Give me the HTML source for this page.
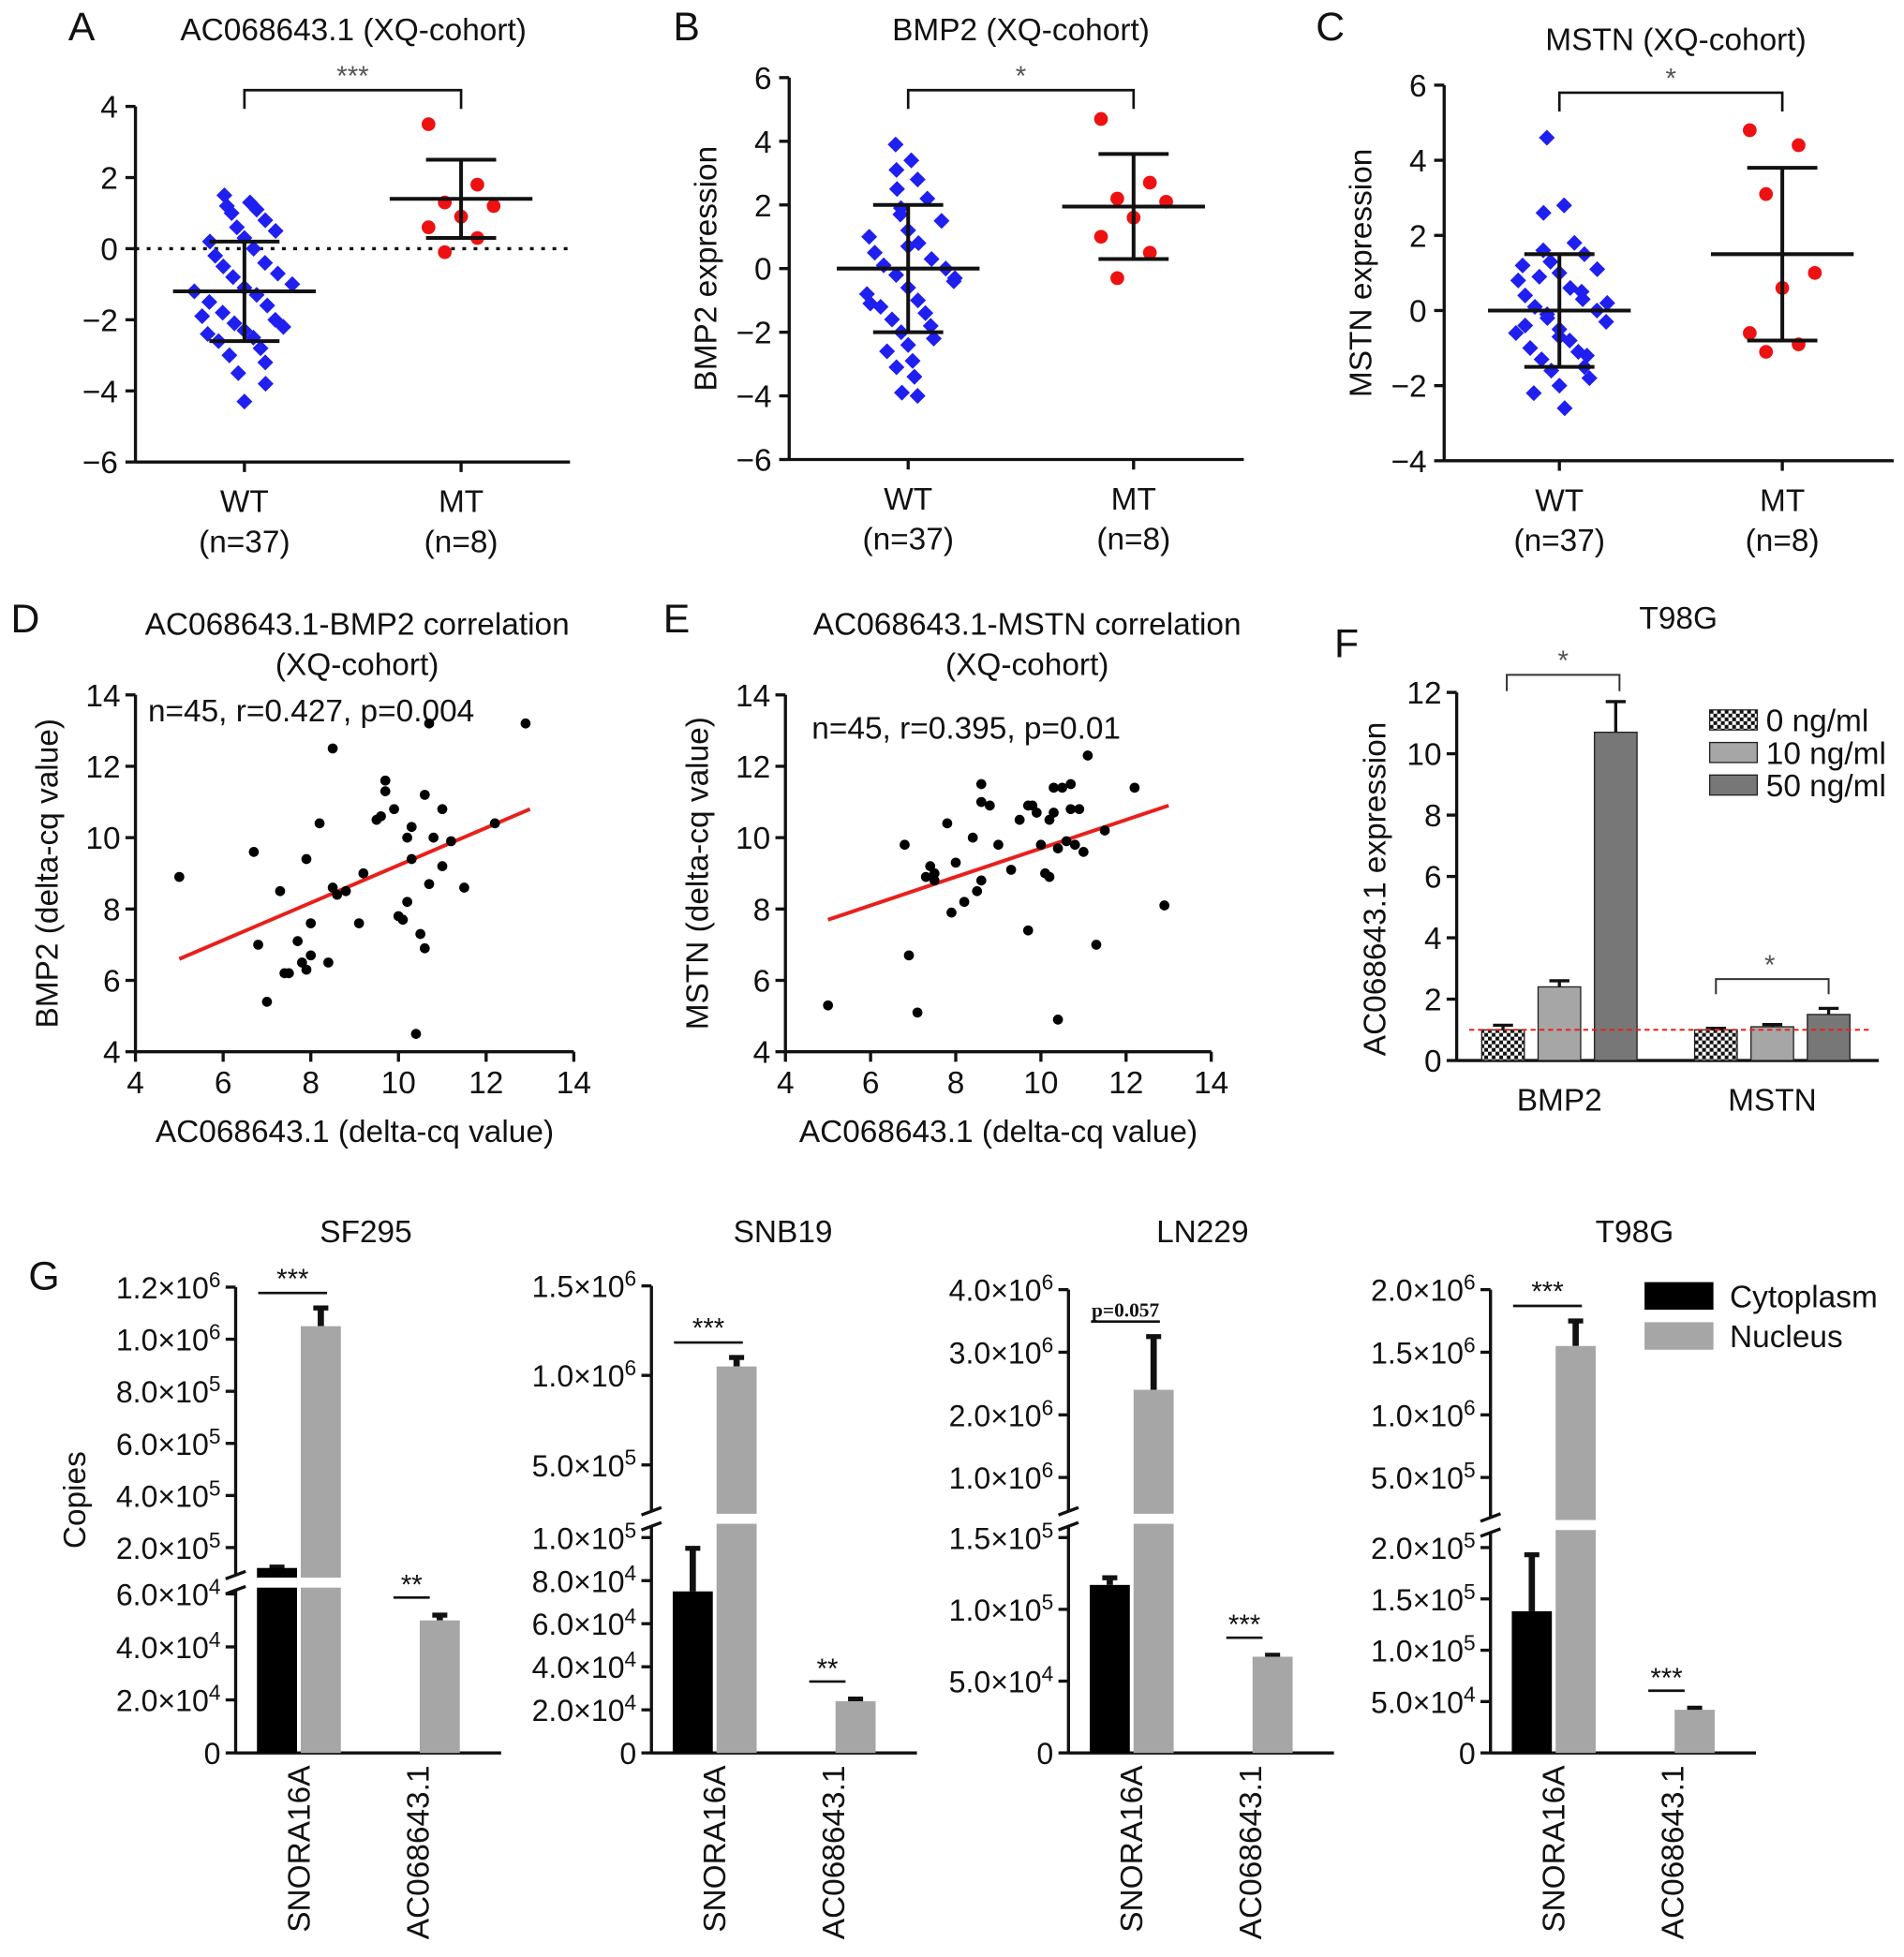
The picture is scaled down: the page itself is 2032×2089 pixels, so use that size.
<!DOCTYPE html>
<html><head><meta charset="utf-8">
<style>
html,body{margin:0;padding:0;background:#fff;}
svg{display:block;font-family:"Liberation Sans",sans-serif;}
</style></head>
<body>
<svg id="fig" xmlns="http://www.w3.org/2000/svg" width="2032" height="2089" viewBox="0 0 1520 1563">
<rect width="1520" height="1563" fill="#fff"/>
</svg>
<script>
// ---------- DATA ----------
const groupCats = ["WT", "MT"];
const groupNs = ["(n=37)", "(n=8)"];
const aWT = [1.5,1.3,1.2,1.1,1.0,0.8,0.6,0.5,0.3,0.2,0,-0.2,-0.4,-0.5,-0.7,-0.8,-1,-1.1,-1.2,-1.3,-1.5,-1.6,-1.8,-2,-2.1,-2.2,-2.3,-2.4,-2.5,-2.6,-2.8,-3,-3.2,-3.5,-3.8,-4.3,-1.9];
const aMT = [3.5,1.8,1.3,1.2,0.9,0.6,0.3,-0.1];
const aStats = [[-1.2,1.4],[1.4,1.1]];
const bWT = [3.9,3.4,3.1,2.8,2.5,2.2,1.9,1.5,1.2,1,0.8,0.5,0.3,0.1,0,-0.2,-0.4,-0.6,-0.8,-1,-1.2,-1.4,-1.6,-1.8,-2,-2.2,-2.4,-2.6,-2.9,-3.1,-3.4,-3.9,-4,1.7,-0.3,0.7,-1.1];
const bMT = [4.7,2.7,2.2,2.1,1.6,1,0.5,-0.3];
const bStats = [[0,2],[1.95,1.65]];
const cWT = [4.6,2.8,2.6,1.8,1.6,1.5,1.3,1.1,1,0.8,0.6,0.4,0.3,0.1,0,-0.1,-0.3,-0.5,-0.6,-0.8,-1,-1.1,-1.3,-1.5,-1.6,-1.8,-2,-2.2,-2.6,-0.4,0.5,0.9,-1.2,-0.2,0.2,-0.7,1.2];
const cMT = [4.8,4.4,3.1,1.0,0.6,-0.6,-0.9,-1.1];
const cStats = [[0,1.5],[1.5,2.3]];
const dX = [5,6.7,6.8,7,7.3,7.4,7.5,7.7,7.8,7.9,8,7.9,8.2,8,8.4,8.5,8.5,8.6,8.8,9.1,9.2,9.5,9.6,9.7,9.7,9.9,10,10.1,10.2,10.2,10.3,10.3,10.5,10.6,10.4,10.6,10.7,10.8,11,11.2,11.5,12.2,12.9,10.7,11];
const dY = [8.9,9.6,7,5.4,8.5,6.2,6.2,7.1,6.5,6.3,6.7,9.4,10.4,7.6,6.5,12.5,8.6,8.4,8.5,7.6,9,10.5,10.6,11.6,11.3,10.8,7.8,7.7,8.2,10,9.4,10.3,7.3,6.9,4.5,11.2,8.7,10,10.8,9.9,8.6,10.4,13.2,13.2,9.2];
const dFit = [[5,6.6],[13,10.8]];
const eX = [5,6.8,6.9,7.1,7.3,7.4,7.5,7.5,7.8,7.9,8,8.2,8.4,8.5,8.6,8.6,8.6,8.8,9,9.3,9.5,9.7,9.7,9.8,9.9,10,10.1,10.2,10.3,10.3,10.4,10.4,10.5,10.6,10.7,10.7,10.8,10.9,11,11.1,11.3,11.5,12.2,12.9,10.2];
const eY = [5.3,9.8,6.7,5.1,8.9,9.2,8.8,9,10.4,7.9,9.3,8.2,10,8.5,11.5,11,8.8,10.9,9.8,9.1,10.5,10.9,7.4,10.9,10.7,9.8,9,8.9,10.7,11.4,4.9,9.7,11.4,9.9,11.5,10.8,9.8,10.8,9.6,12.3,7,10.2,11.4,8.1,10.5];
const eFit = [[5,7.7],[13,10.9]];
const fGenes = ["BMP2","MSTN"];
const fDoses = ["0 ng/ml","10 ng/ml","50 ng/ml"];
const fBMP2 = [1.0,2.4,10.7];
const fBMP2Err = [0.15,0.2,1.0];
const fMSTN = [1.0,1.1,1.5];
const fMSTNErr = [0.05,0.07,0.2];
const fTicks = [0,2,4,6,8,10,12];
const gCells = ["SF295","SNB19","LN229","T98G"];
const gGenes = ["SNORA16A","AC068643.1"];
const gCyto = [[8e4,0],[7.5e4,0],[1.17e5,0],[1.38e5,0]];
const gCytoErr = [[0.5e4,0],[2e4,0],[0.05e5,0],[0.55e5,0]];
const gNuc = [[1.05e6,5e4],[1.05e6,2.4e4],[2.4e6,6.7e4],[1.55e6,4.2e4]];
const gNucErr = [[0.07e6,0.2e4],[0.05e6,0.1e4],[0.85e6,0.1e4],[0.2e6,0.15e4]];
const gSig = [["***","**"],["***","**"],["p=0.057","***"],["***","***"]];

// ---------- helpers ----------
const FS=25;
const NS="http://www.w3.org/2000/svg";
const svg=document.getElementById('fig');
function mk(tag,attrs,parent){const e=document.createElementNS(NS,tag);for(const k in attrs)e.setAttribute(k,attrs[k]);(parent||svg).appendChild(e);return e;}
function txt(x,y,s,size,anchor,parent,extra){const t=mk('text',Object.assign({x:x,y:y,'font-size':size,'text-anchor':anchor||'middle',fill:'#111'},extra||{}),parent);t.textContent=s;return t;}
function line(x1,y1,x2,y2,w,parent,extra){return mk('line',Object.assign({x1,y1,x2,y2,stroke:'#111','stroke-width':w||2},extra||{}),parent);}
function sup(t,base,exp){t.textContent='';const a=document.createElementNS(NS,'tspan');a.textContent=base;t.appendChild(a);const b=document.createElementNS(NS,'tspan');b.setAttribute('dy','-9');b.setAttribute('font-size','17');b.textContent=exp;t.appendChild(b);}

// ---------- panel letters ----------
[["A",65,32],["B",548,32],["C",1062,32],["D",20,505],["E",540,505],["F",1075,525],["G",35,1030]].forEach(p=>{
  const t=txt(p[1],p[2],p[0],32,'middle');
  
  
});

// ---------- dot plots A,B,C ----------
function dotPanel(cfg){
  const g=mk('g',{});
  
  
  const y=v=>cfg.y0+(v-cfg.vmax)*(cfg.y1-cfg.y0)/(cfg.vmin-cfg.vmax);
  const xs=[cfg.xWT,cfg.xMT];
  const tt=txt(cfg.titleX,cfg.titleY,cfg.title,FS,'middle',g);
  
  
  line(cfg.ax,cfg.y0,cfg.ax,cfg.y1+1,2.5,g);
  line(cfg.ax,cfg.y1,cfg.axEnd,cfg.y1,2.5,g);
  for(let v=cfg.vmin;v<=cfg.vmax;v+=2){
    line(cfg.ax-8,y(v),cfg.ax,y(v),2.5,g);
    const t=txt(cfg.ax-14,y(v)+9,(v<0?'\u2212'+(-v):''+v),FS,'end',g);
    
    
  }
  groupCats.forEach((c,i)=>{
    line(xs[i],cfg.y1,xs[i],cfg.y1+8,2.5,g);
    const t=txt(xs[i],cfg.y1+40,c,FS,'middle',g);
    
    
    const n=txt(xs[i],cfg.y1+72,groupNs[i],FS,'middle',g);
    
    
  });
  if(cfg.ylabel){const yl=txt(0,0,cfg.ylabel,FS,'middle',g,{transform:`translate(${cfg.ax-58},${(cfg.y0+cfg.y1)/2}) rotate(-90)`});
    
    }
  if(cfg.zeroLine){const zl=line(cfg.ax,y(0),cfg.axEnd,y(0),2.5,g,{'stroke-dasharray':'3 6'});
    
    }
  const m0=cfg.stats[0][0];
  cfg.wt.forEach((v,i)=>{
    const spread=Math.max(0.25,1-Math.abs(v-m0)/4.5);
    const off=((i*5)%9-4)*10*spread;
    const cx=xs[0]+off, cy=y(v);
    const d=mk('rect',{x:cx-4.5,y:cy-4.5,width:9,height:9,fill:'#1f1ff0',transform:`rotate(45 ${cx} ${cy})`},g);
    
    
  });
  cfg.mt.forEach((v,i)=>{
    const off=((i*3)%5-2)*13;
    const c=mk('circle',{cx:xs[1]+off,cy:y(v),r:5.5,fill:'#ee1111'},g);
    
    
  });
  cfg.stats.forEach((s,i)=>{
    const m=line(xs[i]-57,y(s[0]),xs[i]+57,y(s[0]),3,g);
    
    
    line(xs[i],y(s[0]+s[1]),xs[i],y(s[0]-s[1]),3,g);
    line(xs[i]-28,y(s[0]+s[1]),xs[i]+28,y(s[0]+s[1]),3,g);
    line(xs[i]-28,y(s[0]-s[1]),xs[i]+28,y(s[0]-s[1]),3,g);
  });
  const b=mk('path',{d:`M${xs[0]},${cfg.brY+15} V${cfg.brY} H${xs[1]} V${cfg.brY+15}`,fill:'none',stroke:'#111','stroke-width':2},g);
  
  
  const st=txt((xs[0]+xs[1])/2,cfg.brY-4,cfg.sig,22,'middle',g,{fill:'#555'});
  
  
}
dotPanel({name:'panel-a-dotplot',title:'AC068643.1 (XQ-cohort)',titleX:282,titleY:32,ax:108,axEnd:455,y0:85,y1:369,vmax:4,vmin:-6,xWT:195,xMT:368,wt:aWT,mt:aMT,stats:aStats,brY:72,sig:'***',zeroLine:true});
dotPanel({name:'panel-b-dotplot',title:'BMP2 (XQ-cohort)',titleX:815,titleY:32,ax:630,axEnd:993,y0:62,y1:367,vmax:6,vmin:-6,xWT:725,xMT:905,wt:bWT,mt:bMT,stats:bStats,brY:72,sig:'*',ylabel:'BMP2 expression'});
dotPanel({name:'panel-c-dotplot',title:'MSTN (XQ-cohort)',titleX:1338,titleY:40,ax:1153,axEnd:1512,y0:68,y1:368,vmax:6,vmin:-4,xWT:1245,xMT:1423,wt:cWT,mt:cMT,stats:cStats,brY:74,sig:'*',ylabel:'MSTN expression'});

// ---------- scatter D,E ----------
function scatter(cfg){
  const g=mk('g',{});
  
  
  const x=v=>cfg.x0+(v-4)*(cfg.x1-cfg.x0)/10;
  const y=v=>cfg.yb+(v-4)*(cfg.yt-cfg.yb)/10;
  cfg.title.forEach((s,i)=>{const t=txt(cfg.tx,507+i*32,s,FS,'middle',g);
    
    });
  line(cfg.x0,cfg.yt,cfg.x0,cfg.yb+1,2.5,g);
  line(cfg.x0,cfg.yb,cfg.x1,cfg.yb,2.5,g);
  for(let v=4;v<=14;v+=2){
    line(cfg.x0-8,y(v),cfg.x0,y(v),2.5,g);
    const t=txt(cfg.x0-12,y(v)+9,''+v,FS,'end',g);
    
    
    line(x(v),cfg.yb,x(v),cfg.yb+8,2.5,g);
    const u=txt(x(v),cfg.yb+33,''+v,FS,'middle',g);
    
    
  }
  const xt=txt((cfg.x0+cfg.x1)/2,cfg.yb+72,'AC068643.1 (delta-cq value)',FS,'middle',g);
  
  
  const yt=txt(0,0,cfg.ylabel,FS,'middle',g,{transform:`translate(${cfg.x0-62},${(cfg.yt+cfg.yb)/2}) rotate(-90)`});
  
  
  const st=txt(cfg.sx,cfg.sy,cfg.stat,FS,'start',g);
  
  
  const f=line(x(cfg.fit[0][0]),y(cfg.fit[0][1]),x(cfg.fit[1][0]),y(cfg.fit[1][1]),3,g,{stroke:'#e8201c'});
  
  
  cfg.xs.forEach((v,i)=>{
    const c=mk('circle',{cx:x(v),cy:y(cfg.ys[i]),r:4,fill:'#000'},g);
    
    
  });
}
scatter({name:'panel-d-scatter',title:['AC068643.1-BMP2 correlation','(XQ-cohort)'],tx:285,x0:108,x1:458,yt:555,yb:840,ylabel:'BMP2 (delta-cq value)',stat:'n=45, r=0.427, p=0.004',sx:118,sy:576,xs:dX,ys:dY,fit:dFit});
scatter({name:'panel-e-scatter',title:['AC068643.1-MSTN correlation','(XQ-cohort)'],tx:820,x0:627,x1:967,yt:555,yb:840,ylabel:'MSTN (delta-cq value)',stat:'n=45, r=0.395, p=0.01',sx:648,sy:590,xs:eX,ys:eY,fit:eFit});

// ---------- panel F ----------
(function(){
  const g=mk('g',{});
  
  
  const defs=mk('defs',{},g);
  const pat=mk('pattern',{id:'chk',width:6,height:6,patternUnits:'userSpaceOnUse'},defs);
  mk('rect',{width:6,height:6,fill:'#fff'},pat);
  mk('rect',{width:3,height:3,fill:'#111'},pat);
  mk('rect',{x:3,y:3,width:3,height:3,fill:'#111'},pat);
  const ax=1163,y0=847,yTop=553;
  const y=v=>y0-(v/12)*(y0-yTop);
  const t0=txt(1340,502,'T98G',FS,'middle',g);
  
  
  line(ax,yTop,ax,y0+1,2.5,g);
  line(ax,y0,1500,y0,2.5,g);
  fTicks.forEach(v=>{
    line(ax-8,y(v),ax,y(v),2.5,g);
    const t=txt(ax-12,y(v)+9,''+v,FS,'end',g);
    
    
  });
  const yl=txt(0,0,'AC068643.1 expression',FS,'middle',g,{transform:`translate(${ax-57},${(y0+yTop)/2+10}) rotate(-90)`});
  
  
  const fills=['url(#chk)','#a6a6a6','#777'];
  const centers=[1245,1415];
  [fBMP2,fMSTN].forEach((vals,gi)=>{
    const errs=gi===0?fBMP2Err:fMSTNErr;
    vals.forEach((v,i)=>{
      const cx=centers[gi]+(i-1)*45;
      const r=mk('rect',{x:cx-17,y:y(v),width:34,height:y0-y(v),fill:fills[i],stroke:'#222','stroke-width':1},g);
      
      
      line(cx,y(v),cx,y(v+errs[i]),2.5,g);
      line(cx-8,y(v+errs[i]),cx+8,y(v+errs[i]),2.5,g);
    });
    const t=txt(centers[gi],y0+40,fGenes[gi],FS,'middle',g);
    
    
  });
  const rl=line(ax+10,y(1),1495,y(1),1.5,g,{stroke:'#e8201c','stroke-dasharray':'4 3'});
  
  
  const b1=mk('path',{d:`M1203,552 V539 H1293 V552`,fill:'none',stroke:'#333','stroke-width':1.5},g);
  
  
  txt(1248,535,'*',22,'middle',g,{fill:'#555'});
  const b2=mk('path',{d:`M1370,794 V782 H1460 V794`,fill:'none',stroke:'#333','stroke-width':1.5},g);
  
  
  txt(1413,778,'*',22,'middle',g,{fill:'#555'});
  fDoses.forEach((d,i)=>{
    const yy=576+i*26;
    const sw=mk('rect',{x:1365,y:yy-9,width:38,height:16,fill:fills[i],stroke:'#222','stroke-width':1},g);
    
    
    const t=txt(1410,yy+8,d,FS,'start',g);
    
    
  });
})();

// ---------- panel G ----------
const gCfg=[
 {ax:188,lowMax:6e4,lowTicks:[0,2e4,4e4,6e4],lowY1:1273,upMin:2e5,upMax:1.2e6,upTicks:[2e5,4e5,6e5,8e5,1e6,1.2e6],upY0:1236,upY1:1028,brk:1264,upBase:1255,labels:{low:['0','2.0×10','4.0×10','6.0×10'],lowE:['','4','4','4'],up:['2.0×10','4.0×10','6.0×10','8.0×10','1.0×10','1.2×10'],upE:['5','5','5','5','6','6']}},
 {ax:520,lowMax:1e5,lowTicks:[0,2e4,4e4,6e4,8e4,1e5],lowY1:1228,upMin:5e5,upMax:1.5e6,upTicks:[5e5,1e6,1.5e6],upY0:1170,upY1:1027,brk:1213,upBase:1205,labels:{low:['0','2.0×10','4.0×10','6.0×10','8.0×10','1.0×10'],lowE:['','4','4','4','4','5'],up:['5.0×10','1.0×10','1.5×10'],upE:['5','6','6']}},
 {ax:853,lowMax:1.5e5,lowTicks:[0,5e4,1e5,1.5e5],lowY1:1228,upMin:1e6,upMax:4e6,upTicks:[1e6,2e6,3e6,4e6],upY0:1180,upY1:1030,brk:1213,upBase:1205,labels:{low:['0','5.0×10','1.0×10','1.5×10'],lowE:['','4','5','5'],up:['1.0×10','2.0×10','3.0×10','4.0×10'],upE:['6','6','6','6']}},
 {ax:1190,lowMax:2e5,lowTicks:[0,5e4,1e5,1.5e5,2e5],lowY1:1236,upMin:5e5,upMax:2e6,upTicks:[5e5,1e6,1.5e6,2e6],upY0:1180,upY1:1030,brk:1218,upBase:1210,labels:{low:['0','5.0×10','1.0×10','1.5×10','2.0×10'],lowE:['','4','5','5','5'],up:['5.0×10','1.0×10','1.5×10','2.0×10'],upE:['5','6','6','6']}}
];
const gTitleX=[292,625,960,1305];
gCfg.forEach((c,pi)=>{
  const g=mk('g',{});
  
  
  const y0=1400;
  const yv=v=>{
    if(v<=c.lowMax) return y0-(v/c.lowMax)*(y0-c.lowY1);
    if(v<c.upMin) return c.upBase-(v-c.lowMax)/(c.upMin-c.lowMax)*(c.upBase-c.upY0);
    return c.upY0-(v-c.upMin)/(c.upMax-c.upMin)*(c.upY0-c.upY1);
  };
  const t=txt(gTitleX[pi],992,gCells[pi],FS,'middle',g);
  
  
  line(c.ax,c.brk+6,c.ax,y0+1,2.5,g);
  line(c.ax,c.upY1,c.ax,c.brk-6,2.5,g);
  line(c.ax-8,c.brk+9,c.ax+8,c.brk+3,2.5,g);
  line(c.ax-8,c.brk-3,c.ax+8,c.brk-9,2.5,g);
  line(c.ax,y0,c.ax+212,y0,2.5,g);
  c.lowTicks.forEach((v,i)=>{
    line(c.ax-8,yv(v),c.ax,yv(v),2.5,g);
    const tl=txt(c.ax-12,yv(v)+9,c.labels.low[i],24,'end',g);
    if(c.labels.lowE[i]){tl.setAttribute('x',c.ax-12);sup(tl,c.labels.low[i],c.labels.lowE[i]);}
    
    
  });
  c.upTicks.forEach((v,i)=>{
    line(c.ax-8,yv(v),c.ax,yv(v),2.5,g);
    const tl=txt(c.ax-12,yv(v)+9,'',24,'end',g);
    sup(tl,c.labels.up[i],c.labels.upE[i]);
    
    
  });
  const bx=[[c.ax+33,c.ax+68],[c.ax+128,c.ax+163]];
  gGenes.forEach((gn,gi)=>{
    const series=[[gCyto[pi][gi],gCytoErr[pi][gi],'#000','cytoplasm'],[gNuc[pi][gi],gNucErr[pi][gi],'#a6a6a6','nucleus']];
    series.forEach((s,si)=>{
      if(s[0]<=0) return;
      const cx=bx[gi][si];
      const top=yv(s[0]);
      line(cx,top,cx,yv(s[0]+s[1]),5,g);
      line(cx-6,yv(s[0]+s[1]),cx+6,yv(s[0]+s[1]),4,g);
      const r=mk('rect',{x:cx-16,y:top,width:32,height:y0-top,fill:s[2]},g);
      
      
    });
    const lx=gi===0?c.ax+50:c.ax+145;
    const lt=txt(0,0,gn,FS,'end',g,{transform:`translate(${lx+9},${y0+10}) rotate(-90)`});
    
    
  });
  const gap=mk('rect',{x:c.ax+14,y:c.brk-4,width:75,height:8,fill:'#fff'},g);
  
  
  const sig1y=yv(gNuc[pi][0]+gNucErr[pi][0])-12;
  line(bx[0][0]-15,sig1y,bx[0][1]+5,sig1y,2,g);
  const s1=txt((bx[0][0]+bx[0][1])/2-5,sig1y-4,gSig[pi][0],gSig[pi][0].length>3?16:22,'middle',g,gSig[pi][0].length>3?{'font-family':'Liberation Serif','font-weight':'bold'}:{});
  
  
  const sig2y=yv(gNuc[pi][1]+gNucErr[pi][1])-14;
  line(bx[1][0]-2,sig2y,bx[1][1]-8,sig2y,2,g);
  const s2=txt((bx[1][0]+bx[1][1])/2-5,sig2y-3,gSig[pi][1],22,'middle',g);
  
  
});
const cp=txt(0,0,'Copies',FS,'middle',svg,{transform:'translate(68,1198) rotate(-90)'});


[['Cytoplasm','#000'],['Nucleus','#a6a6a6']].forEach((l,i)=>{
  const sw=mk('rect',{x:1313,y:1024+i*32,width:55,height:22,fill:l[1]});
  
  
  const t=txt(1381,1044+i*32,l[0],FS,'start');
  
  
});
</script>
</body></html>
